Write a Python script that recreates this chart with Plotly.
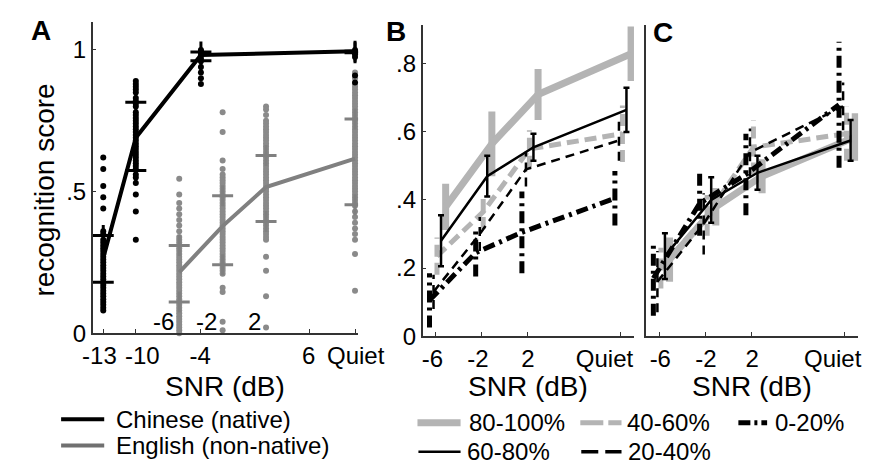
import plotly.graph_objects as go

W, H = 880, 467
FONT = "Arial, 'Liberation Sans', Helvetica, sans-serif"

# ---------------- Panel A data ----------------
QUIET_A = 10.2
cn_snr = [-13, -10, -4, QUIET_A]
en_snr = [-6, -2, 2, QUIET_A]
a_tick_marks = [-13, -10, -4, 6, QUIET_A]
a_label_pos = [-13.35, -9.4, -4.08, 5.92, 10.26]
a_ticktext = ["-13", "-10", "-4", "6", "Quiet"]

cn_m13 = [0.62, 0.58, 0.52, 0.48, 0.44, 0.36, 0.35, 0.33, 0.32, 0.31, 0.30, 0.29, 0.28, 0.27,
          0.26, 0.25, 0.24, 0.23, 0.22, 0.21, 0.20, 0.19, 0.18, 0.17, 0.16, 0.15, 0.14, 0.13,
          0.12, 0.11, 0.10, 0.09, 0.08]
cn_m10 = [0.89, 0.88, 0.87, 0.86, 0.85, 0.83, 0.82, 0.81, 0.80, 0.78, 0.77, 0.76, 0.75, 0.74,
          0.73, 0.72, 0.71, 0.70, 0.69, 0.68, 0.67, 0.66, 0.65, 0.64, 0.63, 0.62, 0.61, 0.60,
          0.59, 0.58, 0.56, 0.55, 0.53, 0.49, 0.43, 0.33]
cn_m4 = [1.0, 0.995, 0.99, 0.98, 0.97, 0.96, 0.94, 0.92, 0.90, 0.88]
cn_quiet = [1.0, 0.99, 0.985, 0.975, 0.91, 0.885]

en_m6 = [0.545, 0.49, 0.46, 0.44, 0.42, 0.40, 0.38, 0.36, 0.34, 0.33, 0.32, 0.31, 0.30, 0.29,
         0.28, 0.27, 0.26, 0.25, 0.24, 0.23, 0.22, 0.21, 0.20, 0.19, 0.18, 0.17, 0.16, 0.15,
         0.14, 0.13, 0.12, 0.11, 0.10, 0.09, 0.08, 0.07, 0.06, 0.05, 0.04, 0.03, 0.02, 0.01, 0.0]
en_m2 = [0.78, 0.71, 0.61, 0.58, 0.56, 0.55, 0.54, 0.53, 0.52, 0.51, 0.50, 0.49, 0.48, 0.47,
         0.46, 0.45, 0.44, 0.43, 0.42, 0.41, 0.40, 0.39, 0.38, 0.37, 0.36, 0.35, 0.34, 0.33,
         0.32, 0.31, 0.30, 0.29, 0.28, 0.27, 0.26, 0.25, 0.24, 0.23, 0.22, 0.21, 0.16, 0.145,
         0.04, 0.01]
en_p2 = [0.80, 0.79, 0.77, 0.75, 0.74, 0.73, 0.72, 0.71, 0.70, 0.69, 0.68, 0.67, 0.66, 0.65,
         0.64, 0.63, 0.62, 0.61, 0.60, 0.59, 0.58, 0.57, 0.56, 0.55, 0.54, 0.53, 0.52, 0.51,
         0.50, 0.49, 0.48, 0.47, 0.46, 0.45, 0.44, 0.43, 0.42, 0.41, 0.40, 0.39, 0.38, 0.37,
         0.36, 0.35, 0.34, 0.33, 0.27, 0.22, 0.13, 0.02]
en_quiet = [0.92, 0.91, 0.90, 0.88, 0.87, 0.86, 0.85, 0.84, 0.83, 0.82, 0.81, 0.80, 0.79, 0.78,
            0.77, 0.76, 0.75, 0.74, 0.73, 0.72, 0.71, 0.70, 0.69, 0.68, 0.67, 0.66, 0.65, 0.64,
            0.63, 0.62, 0.61, 0.60, 0.59, 0.58, 0.57, 0.56, 0.55, 0.54, 0.53, 0.52, 0.51, 0.50,
            0.49, 0.48, 0.47, 0.46, 0.45, 0.43, 0.41, 0.39, 0.37, 0.35, 0.33, 0.28, 0.15]

cn_mean = [0.265, 0.69, 0.982, 0.995]
cn_sd_hi = [0.345, 0.815, 0.993, 0.995]
cn_sd_lo = [0.18, 0.574, 0.962, 0.99]
en_mean = [0.215, 0.378, 0.516, 0.616]
en_sd_hi = [0.31, 0.485, 0.627, 0.756]
en_sd_lo = [0.11, 0.242, 0.394, 0.453]

# ---------------- Panels B / C data ----------------
QUIET_BC = 10.05
bc_snr = [-6, -2, 2, QUIET_BC]
bc_ticktext = ["-6", "-2", "2", "Quiet"]
b_label_pos = [-6.25, -2.3, 2.02, 8.65]
c_label_pos = [-5.9, -1.95, 2.05, 9.0]
groups = ["80-100%", "40-60%", "20-40%", "0-20%", "60-80%"]

b_80_100 = [0.38, 0.565, 0.71, 0.83]
b_80_100_err = [0.068, 0.095, 0.075, 0.08]
b_60_80 = [0.28, 0.47, 0.555, 0.665]
b_60_80_err = [0.075, 0.06, 0.04, 0.065]
b_40_60 = [0.235, 0.365, 0.55, 0.595]
b_40_60_err = [0.055, 0.05, 0.055, 0.083]
b_20_40 = [0.13, 0.30, 0.49, 0.575]
b_20_40_err = [0.05, 0.05, 0.05, 0.06]
b_0_20 = [0.105, 0.245, 0.305, 0.405]
b_0_20_err = [0.08, 0.07, 0.12, 0.08]

c_80_100 = [0.225, 0.38, 0.47, 0.585]
c_80_100_err = [0.065, 0.055, 0.05, 0.07]
c_60_80 = [0.235, 0.40, 0.48, 0.575]
c_60_80_err = [0.067, 0.067, 0.05, 0.06]
c_40_60 = [0.20, 0.355, 0.555, 0.595]
c_40_60_err = [0.06, 0.06, 0.08, 0.08]
c_20_40 = [0.16, 0.33, 0.54, 0.675]
c_20_40_err = [0.09, 0.09, 0.07, 0.07]
c_0_20 = [0.17, 0.39, 0.475, 0.68]
c_0_20_err = [0.11, 0.095, 0.12, 0.185]

panel_b = {"80-100%": (b_80_100, b_80_100_err), "60-80%": (b_60_80, b_60_80_err),
           "40-60%": (b_40_60, b_40_60_err), "20-40%": (b_20_40, b_20_40_err),
           "0-20%": (b_0_20, b_0_20_err)}
panel_c = {"80-100%": (c_80_100, c_80_100_err), "60-80%": (c_60_80, c_60_80_err),
           "40-60%": (c_40_60, c_40_60_err), "20-40%": (c_20_40, c_20_40_err),
           "0-20%": (c_0_20, c_0_20_err)}

# ---------------- styles ----------------
BLACK = "#000000"
GREY_A = "#8a8a8a"
LIGHT = "#b4b4b4"
style = {
    "80-100%": dict(color=LIGHT, width=7, dash="solid", shift=0.9),
    "60-80%": dict(color=BLACK, width=2.5, dash="solid", shift=0.5),
    "40-60%": dict(color=LIGHT, width=5, dash="12px,6px", shift=0.15),
    "20-40%": dict(color=BLACK, width=2.5, dash="9px,6px", shift=-0.15),
    "0-20%": dict(color=BLACK, width=5, dash="12px,5px,3px,5px", shift=-0.5),
}

fig = go.Figure()

# ---------- Panel A ----------
def dots(xv, vals, color):
    fig.add_trace(go.Scatter(x=[xv] * len(vals), y=vals, mode="markers",
                             marker=dict(size=6, color=color), cliponaxis=False,
                             showlegend=False, hoverinfo="skip", xaxis="x", yaxis="y"))

for xv, vals in zip(en_snr, [en_m6, en_m2, en_p2, en_quiet]):
    dots(xv, vals, GREY_A)
fig.add_trace(go.Scatter(x=en_snr, y=en_mean, mode="lines",
                         line=dict(color="#808080", width=4), showlegend=False,
                         xaxis="x", yaxis="y"))
fig.add_trace(go.Scatter(x=en_snr + en_snr, y=en_sd_hi + en_sd_lo, mode="markers",
                         marker=dict(symbol="cross-thin", size=15,
                                     line=dict(color="#808080", width=3)),
                         showlegend=False, xaxis="x", yaxis="y"))
for xv, vals in zip(cn_snr, [cn_m13, cn_m10, cn_m4, cn_quiet]):
    dots(xv, vals, BLACK)
fig.add_trace(go.Scatter(x=cn_snr, y=cn_mean, mode="lines",
                         line=dict(color=BLACK, width=4), showlegend=False,
                         xaxis="x", yaxis="y"))
fig.add_trace(go.Scatter(x=cn_snr + cn_snr, y=cn_sd_hi + cn_sd_lo, mode="markers",
                         marker=dict(symbol="cross-thin", size=15,
                                     line=dict(color=BLACK, width=3)),
                         showlegend=False, xaxis="x", yaxis="y"))

# ---------- Panels B & C ----------
for data, xa, ya in [(panel_b, "x2", "y2"), (panel_c, "x3", "y3")]:
    for g in groups:
        st = style[g]
        means, errs = data[g]
        xs = [v + st["shift"] for v in bc_snr]
        if g == "60-80%":
            fig.add_trace(go.Scatter(
                x=xs, y=means, mode="lines",
                line=dict(color=st["color"], width=st["width"]),
                error_y=dict(type="data", array=errs, color=BLACK, thickness=2.5, width=3),
                showlegend=False, xaxis=xa, yaxis=ya, cliponaxis=False))
        else:
            ex, ey = [], []
            for xv, m, e in zip(xs, means, errs):
                ex += [xv, xv, None]
                ey += [m - e, m + e, None]
            fig.add_trace(go.Scatter(
                x=ex, y=ey, mode="lines",
                line=dict(color=st["color"], width=st["width"], dash=st["dash"]),
                showlegend=False, hoverinfo="skip", xaxis=xa, yaxis=ya))
            fig.add_trace(go.Scatter(
                x=xs, y=means, mode="lines",
                line=dict(color=st["color"], width=st["width"], dash=st["dash"]),
                showlegend=False, xaxis=xa, yaxis=ya))

# ---------- Layout ----------
def px(x):
    return x / W

def py(y):
    return 1 - y / H

AX = "#333333"
base = dict(showline=True, linecolor=AX, linewidth=1.5, showgrid=False, zeroline=False,
            tickfont=dict(family=FONT, size=24, color="black"), mirror=False, tickangle=0)

def xaxis_spec(domain, rng, label_pos, labels, marks, anchor):
    return dict(domain=domain, range=rng, tickmode="array", tickvals=label_pos,
                ticktext=labels, ticks="", anchor=anchor,
                minor=dict(tickmode="array", tickvals=marks, ticks="inside",
                           ticklen=4, tickcolor=AX, tickwidth=1.2, showgrid=False),
                **base)

fig.update_layout(
    width=W, height=H, margin=dict(l=0, r=0, t=0, b=0),
    paper_bgcolor="white", plot_bgcolor="white", showlegend=False,
    font=dict(family=FONT, color="black"),
    xaxis=xaxis_spec([px(78), px(355)], [-13.97, 10.48], a_label_pos, a_ticktext,
                     a_tick_marks, "y"),
    yaxis=dict(domain=[py(334.5), py(14)], range=[0, 1.1], tickmode="array",
               tickvals=[0, 0.5, 1], ticktext=["0", ".5", "1"], anchor="x",
               ticks="inside", ticklen=4, tickcolor=AX, **base),
    xaxis2=xaxis_spec([px(422.3), px(643)], [-7.1, 11.2], b_label_pos, bc_ticktext,
                      bc_snr, "y2"),
    yaxis2=dict(domain=[py(337.5), py(17)], range=[0, 0.9157], tickmode="array",
                tickvals=[0, 0.2, 0.4, 0.6, 0.8], ticktext=["0", ".2", ".4", ".6", ".8"],
                anchor="x2", ticks="inside", ticklen=4, tickcolor=AX, **base),
    xaxis3=xaxis_spec([px(656), px(877)], [-7.1, 11.2], c_label_pos, bc_ticktext,
                      bc_snr, "y3"),
    yaxis3=dict(domain=[py(337.5), py(17)], range=[0, 0.9157], anchor="x3",
                showline=True, linecolor=AX, linewidth=1.5, showgrid=False,
                zeroline=False, showticklabels=False, ticks=""),
)

annotations = []
def text(x, y, s, size=24, xanchor="center", bold=False, angle=0):
    annotations.append(dict(x=px(x), y=py(y), xref="paper", yref="paper", text=s,
                            showarrow=False, xanchor=xanchor, yanchor="middle",
                            textangle=angle,
                            font=dict(family=FONT, size=size, color="black",
                                      weight="bold" if bold else "normal")))

# panel letters
text(24, 23, "A", size=28, bold=True)
text(395, 24, "B", size=28, bold=True)
text(673, 25, "C", size=28, bold=True)
# axis titles
text(216.5, 389, "SNR (dB)", size=28)
text(532.5, 389, "SNR (dB)", size=28)
text(766.5, 389, "SNR (dB)", size=28)
text(28, 187, "recognition score", size=28, angle=-90)

# in-plot SNR labels for English listeners (panel A)
for xv, lab in zip(en_snr[:3], ["-6", "-2", "2"]):
    annotations.append(dict(x=xv - 0.3, y=0.04, xref="x", yref="y", text=lab,
                            showarrow=False, xanchor="right", yanchor="middle",
                            font=dict(family=FONT, size=24, color="black")))

# legends (drawn manually)
shapes = []
def sample(x0, x1, y, color, width, dash="solid"):
    shapes.append(dict(type="line", xref="paper", yref="paper", x0=px(x0), x1=px(x1),
                       y0=py(y), y1=py(y), line=dict(color=color, width=width, dash=dash)))

sample(45, 90, 423, BLACK, 4)
text(100, 423, "Chinese (native)", xanchor="left")
sample(45, 90, 450, "#707070", 4)
text(100, 450, "English (non-native)", xanchor="left")

sample(417, 462, 426.5, LIGHT, 7)
text(469, 426.5, "80-100%", xanchor="left")
sample(587, 630, 426.5, LIGHT, 5, "23px,5px")
text(634, 426.5, "40-60%", xanchor="left")
sample(752, 782, 426.5, BLACK, 5, "12px,4px,3px,4px")
text(788, 426.5, "0-20%", xanchor="left")
sample(418, 462, 456.5, BLACK, 2.5)
text(467, 456.5, "60-80%", xanchor="left")
sample(588, 630, 456.5, BLACK, 3.5, "17px,7px")
text(635, 456.5, "20-40%", xanchor="left")

fig.update_layout(annotations=annotations, shapes=shapes)
fig.write_html("out.html")
